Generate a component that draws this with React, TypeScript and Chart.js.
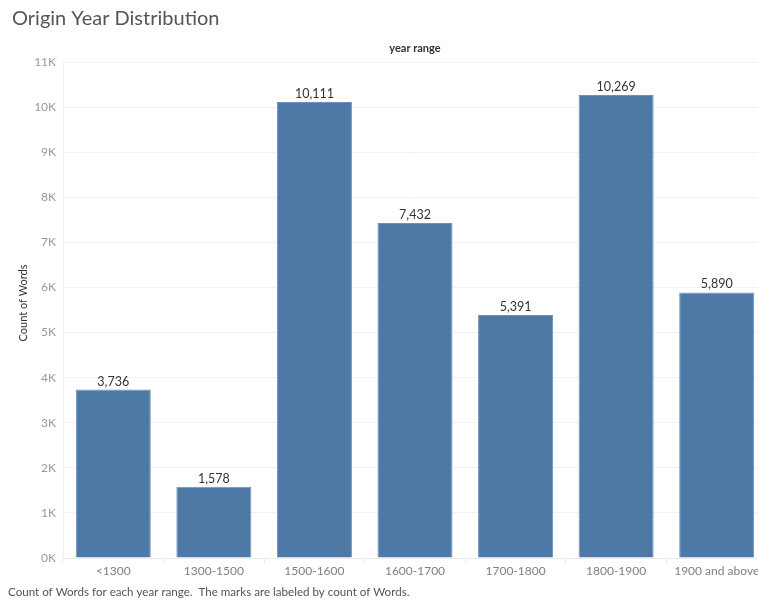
import React, { useEffect, useRef } from "react";
import { Chart, registerables } from "chart.js";

Chart.register(...registerables);

// Word counts grouped by the year range in which each word originated
const yearRanges = [
  "<1300",
  "1300-1500",
  "1500-1600",
  "1600-1700",
  "1700-1800",
  "1800-1900",
  "1900 and above",
];
const wordCounts = [3736, 1578, 10111, 7432, 5391, 10269, 5890];

const yAxisMax = 11000;
const yAxisStep = 1000;

const chartTitle = "Origin Year Distribution";
const columnHeader = "year range";
const yAxisTitle = "Count of Words";
const captionText =
  "Count of Words for each year range.  The marks are labeled by count of Words.";

const FONT = "Lato, 'Noto Sans', sans-serif";
const BAR_COLOR = "#4e79a7";

const fmt = (v: number) => v.toLocaleString("en-US");

// Draws the titles, caption and the value labels above each bar
const textPlugin = {
  id: "textLayer",
  afterDatasetsDraw(chart: any) {
    const { ctx, chartArea } = chart;
    ctx.save();

    // value labels
    const meta = chart.getDatasetMeta(0);
    ctx.font = `12.5px ${FONT}`;
    ctx.fillStyle = "#333333";
    ctx.textAlign = "center";
    ctx.textBaseline = "middle";
    meta.data.forEach((bar: any, i: number) => {
      ctx.fillText(fmt(wordCounts[i]), bar.x, bar.y - 8);
    });

    // main title
    ctx.font = `20px ${FONT}`;
    ctx.fillStyle = "#555555";
    ctx.textAlign = "left";
    ctx.fillText(chartTitle, 12, 19);

    // column header over the plot area
    ctx.font = `bold 11px ${FONT}`;
    ctx.fillStyle = "#333333";
    ctx.textAlign = "center";
    ctx.fillText(columnHeader, (chartArea.left + chartArea.right) / 2, 48);

    // vertical axis title
    ctx.save();
    ctx.translate(23, 303);
    ctx.rotate(-Math.PI / 2);
    ctx.font = `11px ${FONT}`;
    ctx.fillStyle = "#333333";
    ctx.textAlign = "center";
    ctx.fillText(yAxisTitle, 0, 0);
    ctx.restore();

    // caption
    ctx.font = `11.6px ${FONT}`;
    ctx.fillStyle = "#555555";
    ctx.textAlign = "left";
    ctx.fillText(captionText, 8, 592);

    ctx.restore();
  },
};

export default function App() {
  const canvasRef = useRef<HTMLCanvasElement | null>(null);

  useEffect(() => {
    if (!canvasRef.current) return;
    const chart = new Chart(canvasRef.current, {
      type: "bar",
      data: {
        labels: yearRanges,
        datasets: [
          {
            data: wordCounts,
            backgroundColor: BAR_COLOR,
            borderColor: "#6d91ba",
            borderWidth: 1,
            categoryPercentage: 1,
            barPercentage: 0.746,
          },
        ],
      },
      options: {
        animation: false,
        responsive: false,
        devicePixelRatio: 1,
        layout: { padding: { top: 62, left: 0, right: 0, bottom: 0 } },
        plugins: {
          legend: { display: false },
          tooltip: { enabled: false },
          title: { display: false },
        },
        scales: {
          x: {
            afterFit: (scale: any) => {
              scale.height = 44;
            },
            grid: {
              display: true,
              offset: true,
              drawOnChartArea: false,
              drawTicks: true,
              tickLength: 5,
              color: "#e6e6e6",
            },
            border: { display: true, color: "#ececec" },
            ticks: {
              color: "#808080",
              font: { family: FONT, size: 12 },
              padding: 1,
              maxRotation: 0,
              autoSkip: false,
            },
          },
          y: {
            min: 0,
            max: yAxisMax,
            afterFit: (scale: any) => {
              scale.width = 63;
            },
            grid: { color: "#f0f0f0", drawTicks: false },
            border: { display: true, color: "#efefef" },
            ticks: {
              stepSize: yAxisStep,
              color: "#999999",
              font: { family: FONT, size: 12 },
              padding: 7,
              callback: (v: any) => `${Number(v) / 1000}K`,
            },
          },
        },
      },
      plugins: [textPlugin],
    });
    return () => chart.destroy();
  }, []);

  return (
    <div
      style={{
        position: "fixed",
        left: 0,
        top: 0,
        width: 758,
        height: 602,
        overflow: "hidden",
        background: "#ffffff",
      }}
    >
      <canvas ref={canvasRef} width={767} height={602} style={{ display: "block" }} />
    </div>
  );
}
